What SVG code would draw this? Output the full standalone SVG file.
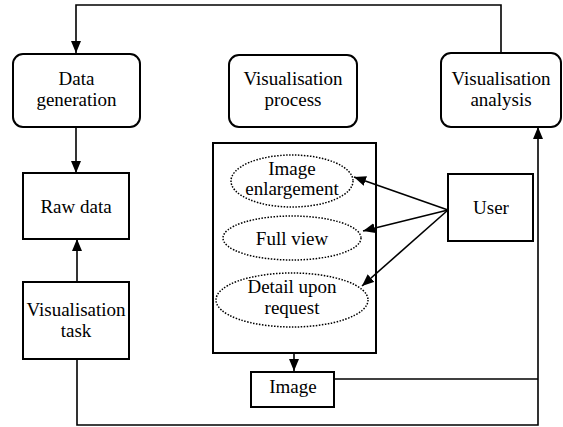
<svg xmlns="http://www.w3.org/2000/svg" width="563" height="427" viewBox="0 0 563 427">
<defs>
<marker id="ah" markerUnits="userSpaceOnUse" markerWidth="13" markerHeight="11" refX="12" refY="5" orient="auto">
<path d="M0,0 L12,5 L0,10 z" fill="#000"/>
</marker>
<style>
.box{fill:#fff;stroke:#000;stroke-width:2}
.frame{fill:none;stroke:#000;stroke-width:2}
.ell{fill:none;stroke:#000;stroke-width:1.5;stroke-dasharray:1.5 1.5}
.ln{fill:none;stroke:#000;stroke-width:1.6}
.arr{fill:none;stroke:#000;stroke-width:1.6;marker-end:url(#ah)}
.t{font-family:"Liberation Serif","DejaVu Serif",serif;font-size:19px;text-anchor:middle;fill:#000}
</style>
</defs>
<rect width="563" height="427" fill="#fff"/>
<g id="visualisation-container">
<rect class="frame" x="213" y="143" width="163" height="210"/>
</g>
<g id="connectors">
<polyline class="arr" points="501,53 501,5 76,5 76,53"/>
<line class="arr" x1="76" y1="127" x2="76" y2="173"/>
<line class="arr" x1="77" y1="282" x2="77" y2="239"/>
<line class="arr" x1="294" y1="353" x2="294" y2="371"/>
<polyline class="ln" points="334,379 538,379"/>
<polyline class="arr" points="77,359 77,425 538,425 538,127"/>
<line class="arr" x1="448" y1="210" x2="354" y2="177"/>
<line class="arr" x1="448" y1="210" x2="363" y2="231"/>
<line class="arr" x1="448" y1="210" x2="362" y2="286"/>
</g>
<g id="data-generation">
<rect class="box" x="13" y="54" width="127" height="73" rx="10"/>
<text class="t" x="76.5" y="85">Data</text>
<text class="t" x="76.5" y="106">generation</text>
</g>
<g id="visualisation-process">
<rect class="box" x="229" y="55" width="128" height="72" rx="10"/>
<text class="t" x="293" y="85">Visualisation</text>
<text class="t" x="293" y="106">process</text>
</g>
<g id="visualisation-analysis">
<rect class="box" x="441" y="53" width="120" height="74" rx="10"/>
<text class="t" x="501" y="85">Visualisation</text>
<text class="t" x="501" y="106">analysis</text>
</g>
<g id="raw-data">
<rect class="box" x="23" y="173" width="106" height="66"/>
<text class="t" x="76" y="213">Raw data</text>
</g>
<g id="visualisation-task">
<rect class="box" x="23" y="282" width="106" height="77"/>
<text class="t" x="76" y="316">Visualisation</text>
<text class="t" x="76" y="337">task</text>
</g>
<g id="image-enlargement">
<ellipse class="ell" cx="292" cy="181" rx="61" ry="26"/>
<text class="t" x="292" y="175">Image</text>
<text class="t" x="292" y="195">enlargement</text>
</g>
<g id="full-view">
<ellipse class="ell" cx="292" cy="238" rx="69" ry="22"/>
<text class="t" x="292" y="245">Full view</text>
</g>
<g id="detail-upon-request">
<ellipse class="ell" cx="292" cy="300" rx="76" ry="27"/>
<text class="t" x="292" y="293">Detail upon</text>
<text class="t" x="292" y="314">request</text>
</g>
<g id="user">
<rect class="box" x="448" y="174" width="85" height="67"/>
<text class="t" x="491" y="214">User</text>
</g>
<g id="image">
<rect class="box" x="251" y="372" width="83" height="35"/>
<text class="t" x="293" y="393">Image</text>
</g>
</svg>
